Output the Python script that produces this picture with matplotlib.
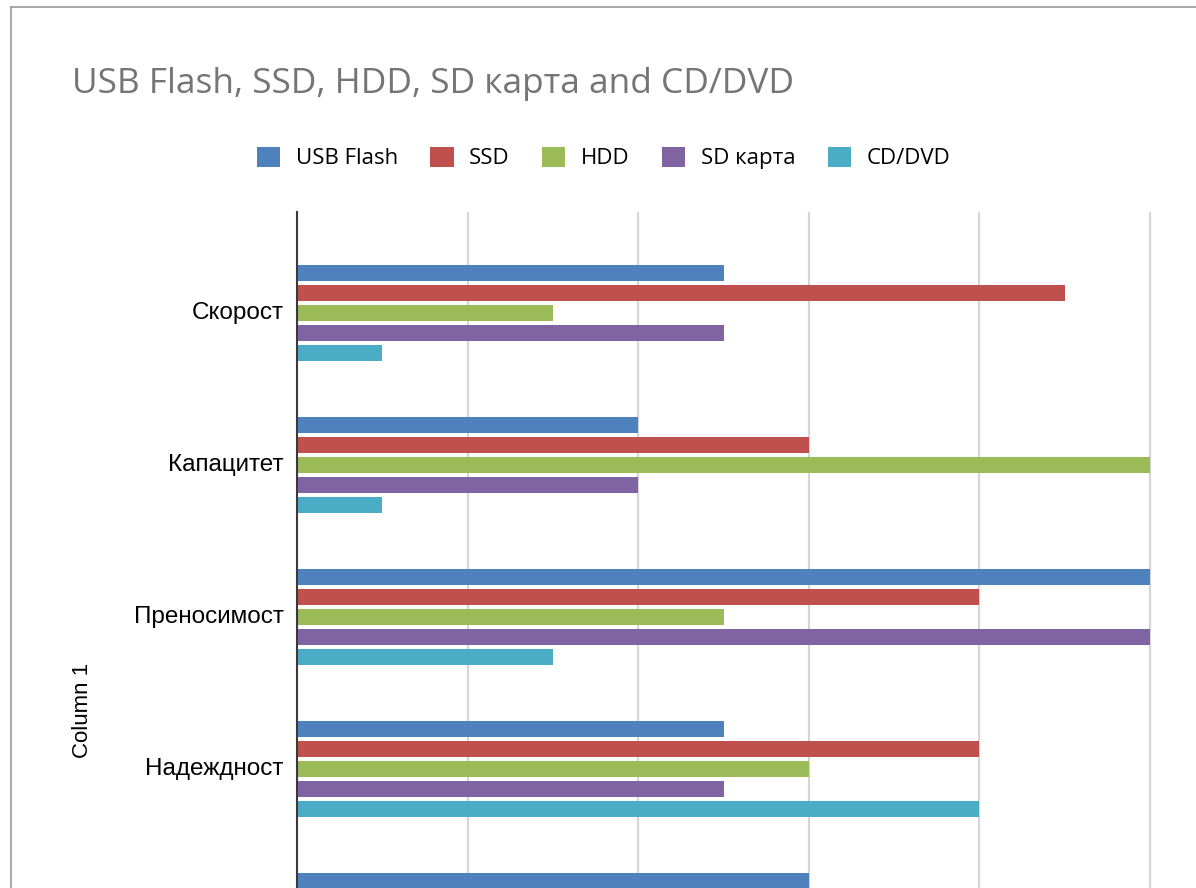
import numpy as np
import matplotlib
matplotlib.use("Agg")
import matplotlib.pyplot as plt
from matplotlib.lines import Line2D

# data (5th category is cut off, only its first bar is visible,
# its label and the other bars lie below the picture)
categories = ["Скорост", "Капацитет", "Преносимост", "Надеждност", ""]
series_names = ["USB Flash", "SSD", "HDD", "SD карта", "CD/DVD"]
usb_flash = [5, 4, 10, 5, 6]
ssd = [9, 6, 8, 8, np.nan]
hdd = [3, 10, 5, 6, np.nan]
sd_card = [5, 4, 10, 5, np.nan]
cd_dvd = [1, 1, 3, 8, np.nan]
x_ticks = [0, 2, 4, 6, 8, 10]

COLORS = ["#4F81BD", "#C0504D", "#9BBB59", "#8064A2", "#4BACC6"]
W, H = 1196, 888

fig = plt.figure(figsize=(W / 100, H / 100), dpi=100)

# axes placed in pixels; the plot runs past the bottom edge like in the screenshot
left, right, top, bottom = 297, 1150, 212, 1022
x_max = 10.1
ax_w = (right - left) * (x_max / 10) / W
ax = fig.add_axes([left / W, (H - bottom) / H, ax_w, (bottom - top) / H])

y = np.arange(len(categories))
bar_h = 0.105
step = 0.132
for i, (name, vals) in enumerate(zip(series_names, [usb_flash, ssd, hdd, sd_card, cd_dvd])):
    ax.barh(y + (i - 2) * step, vals, height=bar_h, color=COLORS[i], label=name, zorder=3)

ax.set_xlim(0, x_max)
ax.set_ylim(4.664, -0.664)
ax.set_xticks(x_ticks)
ax.set_xticklabels([])
ax.set_yticks(y - 0.015)
ax.set_yticklabels(categories, fontsize=17.5, family="Liberation Sans")
ax.tick_params(axis="both", length=0)
ax.tick_params(axis="y", pad=9.5)
ax.grid(axis="x", color="#d6d6d6", linewidth=1.6, zorder=0)
for s in ["top", "right", "bottom"]:
    ax.spines[s].set_visible(False)
ax.spines["left"].set_color("#3a3a3a")
ax.spines["left"].set_linewidth(1.5)
ax.spines["left"].set_zorder(4)

# chart frame (only top and left edges are in view)
fig.add_artist(Line2D([10.5 / W, 10.5 / W], [0, 1 - 7 / H], transform=fig.transFigure,
                      color="#9a9a9a", linewidth=1.2))
fig.add_artist(Line2D([10.5 / W, 1], [1 - 7 / H, 1 - 7 / H], transform=fig.transFigure,
                      color="#9a9a9a", linewidth=1.2))

fig.text(72 / W, 1 - 84 / H, "USB Flash, SSD, HDD, SD карта and CD/DVD",
         fontsize=25.4, color="#757575", family="Open Sans", va="center", ha="left")

fig.text(82 / W, 1 - 710 / H, "Column 1", rotation=90, fontsize=16,
         family="Liberation Sans", va="center", ha="center")

fig.legend(loc="center left", bbox_to_anchor=(257 / W, 1 - 158 / H), ncol=5,
           frameon=False, borderpad=0, borderaxespad=0, handlelength=1.05,
           handleheight=1.05, handletextpad=0.7, columnspacing=1.45,
           prop={"family": "Open Sans", "size": 16})

fig.savefig("out.png", dpi=100)
